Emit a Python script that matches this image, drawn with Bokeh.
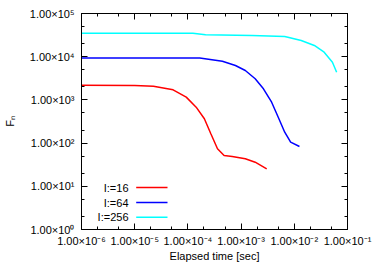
from bokeh.plotting import figure
from bokeh.models import (LogAxis, FixedTicker, CustomJSTickFormatter, Label,
                          BoxAnnotation, Range1d)
from bokeh.embed import file_html
from bokeh.resources import INLINE

# ---- data ----
red_t = [1e-6, 1e-5, 2.25e-5, 5.27e-5, 9.31e-5, 1.43e-4, 2.04e-4, 2.70e-4,
         3.60e-4, 4.79e-4, 6.81e-4, 1.20e-3, 1.84e-3, 3.03e-3]
red_f = [2190, 2150, 2080, 1710, 1160, 678, 366, 164, 73.8, 51.6, 49.0,
         43.4, 36.1, 25.4]

blue_t = [1e-6, 1.67e-4, 4.45e-4, 7.83e-4, 1.20e-3, 1.84e-3, 2.63e-3,
          3.75e-3, 4.99e-3, 6.61e-3, 8.53e-3, 1.25e-2]
blue_f = [9330, 9330, 7870, 6250, 4800, 3080, 1810, 885, 398, 179, 105, 83.4]

cyan_t = [1e-6, 1.24e-4, 2.15e-4, 1.60e-3, 6.61e-3, 1.35e-2, 2.38e-2,
          3.64e-2, 5.21e-2, 6.25e-2]
cyan_f = [35000, 35000, 32100, 31000, 29400, 23700, 18200, 12700, 7460, 4380]

series_labels = ["I:=16", "I:=64", "I:=256"]
series_colors = ["#ff0000", "#0000ff", "#00ffff"]

x_ticks = [1e-6, 1e-5, 1e-4, 1e-3, 1e-2, 1e-1]
x_tick_labels = ["1.00×10⁻⁶", "1.00×10⁻⁵", "1.00×10⁻⁴", "1.00×10⁻³",
                 "1.00×10⁻²", "1.00×10⁻¹"]
y_ticks = [1e0, 1e1, 1e2, 1e3, 1e4, 1e5]
y_tick_labels = ["1.00×10⁰", "1.00×10¹", "1.00×10²", "1.00×10³",
                 "1.00×10⁴", "1.00×10⁵"]
minor_mults = [2, 5]
x_title = "Elapsed time [sec]"
y_title = "Fₙ"

x_minor = [m * t for t in x_ticks[:-1] for m in minor_mults]
y_minor = [m * t for t in y_ticks[:-1] for m in minor_mults]

FONT = "Liberation Sans"

p = figure(width=382, height=266, x_axis_type="log", y_axis_type="log",
           x_range=Range1d(1e-6, 1e-1), y_range=Range1d(1, 1e5),
           output_backend="svg", toolbar_location=None,
           min_border_left=77, min_border_right=35, min_border_top=13,
           min_border_bottom=37)
p.grid.visible = False
p.outline_line_color = "black"
p.outline_line_width = 1
p.background_fill_color = "white"
p.border_fill_color = "white"

js = """
let best = 0, bd = Infinity;
for (let i = 0; i < tvals.length; i++) {
  const d = Math.abs(Math.log10(tvals[i]) - Math.log10(tick));
  if (d < bd) { bd = d; best = i; }
}
return tlabs[best];
"""

def style(ax, ticks, minor, labels=None):
    ax.ticker = FixedTicker(ticks=ticks, minor_ticks=minor)
    ax.major_tick_in = 6
    ax.major_tick_out = 0
    ax.minor_tick_in = 3
    ax.minor_tick_out = 0
    ax.axis_line_color = "black"
    ax.major_tick_line_color = "black"
    ax.minor_tick_line_color = "black"
    if labels is None:
        ax.formatter = CustomJSTickFormatter(code="return '';")
        ax.major_label_text_font_size = "0px"
        ax.major_label_standoff = 0
    else:
        ax.formatter = CustomJSTickFormatter(args=dict(tvals=ticks, tlabs=labels), code=js)
        ax.major_label_text_font = FONT
        ax.major_label_text_font_size = "11px"
        ax.major_label_text_color = "black"
    ax.axis_label_text_font = FONT
    ax.axis_label_text_font_size = "11px"
    ax.axis_label_text_font_style = "normal"
    ax.axis_label_text_color = "black"

style(p.xaxis[0], x_ticks, x_minor, x_tick_labels)
style(p.yaxis[0], y_ticks, y_minor, y_tick_labels)
p.xaxis[0].axis_label = x_title
p.xaxis[0].major_label_standoff = 5
p.xaxis[0].axis_label_standoff = 0
p.yaxis[0].axis_label = y_title
p.yaxis[0].major_label_standoff = 7
p.yaxis[0].axis_label_standoff = 11

top_ax = LogAxis()
style(top_ax, x_ticks, x_minor)
p.add_layout(top_ax, "above")
right_ax = LogAxis()
style(right_ax, y_ticks, y_minor)
p.add_layout(right_ax, "right")

for t, f, c in zip([red_t, blue_t, cyan_t], [red_f, blue_f, cyan_f], series_colors):
    p.line(t, f, line_color=c, line_width=1.5)

# legend (label left, sample line right); screen units relative to the frame
leg_y = [42, 27, 12.3]
for lab, c, y in zip(series_labels, series_colors, leg_y):
    p.add_layout(Label(x=47, y=y, x_units="screen", y_units="screen", text=lab,
                       text_align="right", text_baseline="middle",
                       text_font=FONT, text_font_size="11px", text_color="black"))
    p.add_layout(BoxAnnotation(left=54.7, right=86, bottom=y - 0.8, top=y + 0.8,
                               left_units="screen", right_units="screen",
                               top_units="screen", bottom_units="screen",
                               fill_color=c, fill_alpha=1, line_color=None))

open("out.html", "w").write(file_html(p, INLINE))
